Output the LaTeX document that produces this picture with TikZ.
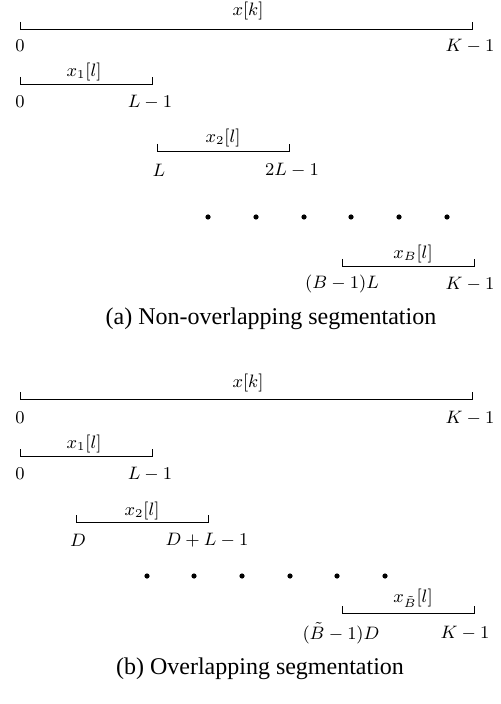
\documentclass[tikz,border=0pt]{standalone}
\usepackage{amsmath, amssymb}
\usepackage{fontspec}
\usepackage{tikz}
\usetikzlibrary{positioning}
\newfontfamily\capfont{Liberation Serif}

\begin{document}
\begin{tikzpicture}[x=0.5pt, y=-0.5pt, font=\small, inner sep=1pt,
  seg/.style={line width=0.45pt},
  dotmark/.style={circle, fill, inner sep=0pt, minimum size=2.6pt},
  subcap/.style={font=\capfont\fontsize{12}{14}\selectfont}]
  \useasboundingbox (0,0) rectangle (501,704);
  % (a) non-overlapping segmentation
  \coordinate (ka-s) at (20,29);   \coordinate (ka-e) at (472,29);
  \coordinate (s1a-s) at (20,84);  \coordinate (s1a-e) at (152,84);
  \coordinate (s2a-s) at (157,151); \coordinate (s2a-e) at (289,151);
  \coordinate (sBa-s) at (342,266); \coordinate (sBa-e) at (474,266);
  \foreach \n in {ka, s1a, s2a, sBa}
    \draw[seg] (\n-s) ++(0,-7) -- (\n-s) -- (\n-e) -- ++(0,-7);
  \node (ka-t) at (248,11) {$x[k]$};
  \node (ka-lo) at (20,46) {$0$};
  \node (ka-hi) at (470,46) {$K-1$};
  \node (s1a-t) at (84,72) {$x_1[l]$};
  \node (s1a-lo) at (20,102) {$0$};
  \node (s1a-hi) at (150,102) {$L-1$};
  \node (s2a-t) at (223,138) {$x_2[l]$};
  \node (s2a-lo) at (159,170) {$L$};
  \node (s2a-hi) at (292,170) {$2L-1$};
  \foreach \x [count=\i] in {208, 256, 304, 351, 399, 447}
    \node[dotmark] (da\i) at (\x,217) {};
  \node (sBa-t) at (413,254) {$x_B[l]$};
  \node (sBa-lo) at (342,284) {$(B-1)L$};
  \node (sBa-hi) at (470,284) {$K-1$};
  \node[subcap] (capa) at (271,319) {(a) Non-overlapping segmentation};
  % (b) overlapping segmentation
  \coordinate (kb-s) at (20,399);  \coordinate (kb-e) at (472,399);
  \coordinate (s1b-s) at (20,456); \coordinate (s1b-e) at (152,456);
  \coordinate (s2b-s) at (76,522); \coordinate (s2b-e) at (208,522);
  \coordinate (sBb-s) at (342,613); \coordinate (sBb-e) at (474,613);
  \foreach \n in {kb, s1b, s2b, sBb}
    \draw[seg] (\n-s) ++(0,-7) -- (\n-s) -- (\n-e) -- ++(0,-7);
  \node (kb-t) at (248,383) {$x[k]$};
  \node (kb-lo) at (20,418) {$0$};
  \node (kb-hi) at (470,418) {$K-1$};
  \node (s1b-t) at (84,444) {$x_1[l]$};
  \node (s1b-lo) at (20,474) {$0$};
  \node (s1b-hi) at (150,474) {$L-1$};
  \node (s2b-t) at (142,511) {$x_2[l]$};
  \node (s2b-lo) at (78,540) {$D$};
  \node (s2b-hi) at (207,540) {$D+L-1$};
  \foreach \x [count=\i] in {147, 194, 242, 290, 337, 385}
    \node[dotmark] (db\i) at (\x,576) {};
  \node (sBb-t) at (413,598) {$x_{\tilde{B}}[l]$};
  \node (sBb-lo) at (341,633) {$(\tilde{B}-1)D$};
  \node (sBb-hi) at (465,633) {$K-1$};
  \node[subcap] (capb) at (260,669) {(b) Overlapping segmentation};
\end{tikzpicture}
\end{document}
